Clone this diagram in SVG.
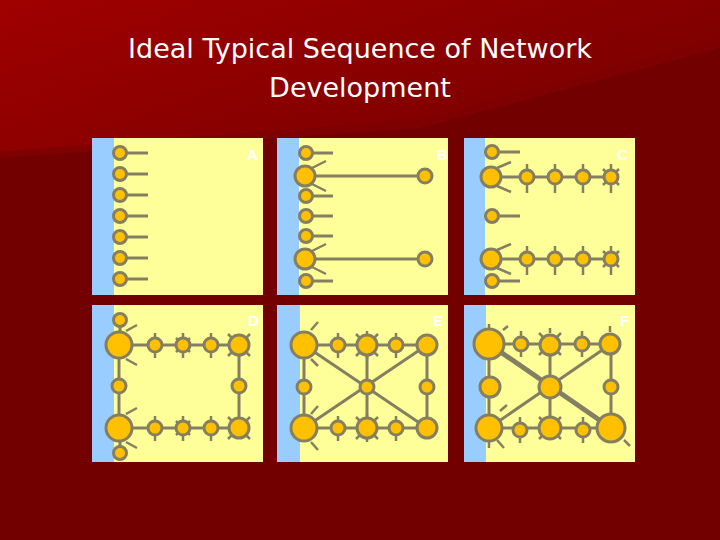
<svg xmlns="http://www.w3.org/2000/svg" width="720" height="540" viewBox="0 0 720 540">
<defs>
<linearGradient id="bg" x1="0" y1="0" x2="1" y2="0.6">
<stop offset="0" stop-color="#a00000"/><stop offset="1" stop-color="#7a0000"/>
</linearGradient>
<style>
.pan{fill:#ffff99}.blue{fill:#99ccff}
.n{fill:#ffc000;stroke:#857f62;stroke-width:3}
.l{stroke:#857f62;stroke-width:3;fill:none}
.t{stroke:#857f62;stroke-width:2.5;fill:none}
.lab{font-family:"Liberation Sans",Arial,sans-serif;font-weight:bold;font-size:15px;fill:#ffffff}
.title{font-family:"DejaVu Sans",sans-serif;font-size:27px;fill:#ffffff;text-anchor:middle}
</style>
</defs>
<rect width="720" height="540" fill="#720000"/>
<polygon points="0,0 720,0 720,40 420,120 0,152" fill="url(#bg)"/>
<polygon points="0,152 420,120 720,40 720,48 420,128 0,158" fill="#7e0000"/>
<text class="title" x="360" y="58">Ideal Typical Sequence of Network</text>
<text class="title" x="360" y="97">Development</text>

<g id="panelA">
<rect class="pan" x="92" y="138" width="171" height="157"/><rect class="blue" x="92" y="138" width="22" height="157"/>
<path class="l" d="M120 153H148M120 174H148M120 195H148M120 216H148M120 237H148M120 258H148M120 279H148"/>
<circle class="n" cx="120" cy="153" r="6.5"/><circle class="n" cx="120" cy="174" r="6.5"/><circle class="n" cx="120" cy="195" r="6.5"/><circle class="n" cx="120" cy="216" r="6.5"/><circle class="n" cx="120" cy="237" r="6.5"/><circle class="n" cx="120" cy="258" r="6.5"/><circle class="n" cx="120" cy="279" r="6.5"/>
<text class="lab" x="247" y="160">A</text>
</g>

<g id="panelB">
<rect class="pan" x="277" y="138" width="171" height="157"/><rect class="blue" x="277" y="138" width="22" height="157"/>
<path class="l" d="M306 153H333M306 176H425M306 196H333M306 216H333M306 236H333M306 259H425M306 281H333"/>
<path class="t" d="M312 168L326 161M312 184L326 191M312 251L326 244M312 267L326 274"/>
<circle class="n" cx="306" cy="153" r="6.5"/><circle class="n" cx="305" cy="176" r="10"/><circle class="n" cx="425" cy="176" r="7"/><circle class="n" cx="306" cy="196" r="6.5"/><circle class="n" cx="306" cy="216" r="6.5"/><circle class="n" cx="306" cy="236" r="6.5"/><circle class="n" cx="305" cy="259" r="10"/><circle class="n" cx="425" cy="259" r="7"/><circle class="n" cx="306" cy="281" r="6.5"/>
<text class="lab" x="437" y="160">B</text>
</g>

<g id="panelC">
<rect class="pan" x="464" y="138" width="171" height="157"/><rect class="blue" x="464" y="138" width="21" height="157"/>
<path class="l" d="M492 152H520M491 177H611M492 216H520M491 259H611M492 281H520"/>
<path class="t" d="M497 168L511 162M497 186L511 192M497 250L511 244M497 268L511 274M527 164V193M555 164V193M583 164V193M611 164V193M527 246V275M555 246V275M583 246V275M611 246V275M603 169L619 185M619 169L603 185M603 251L619 267M619 251L603 267"/>
<circle class="n" cx="492" cy="152" r="6.5"/><circle class="n" cx="491" cy="177" r="10"/><circle class="n" cx="527" cy="177" r="7"/><circle class="n" cx="555" cy="177" r="7"/><circle class="n" cx="583" cy="177" r="7"/><circle class="n" cx="611" cy="177" r="7"/>
<circle class="n" cx="492" cy="216" r="6.5"/><circle class="n" cx="491" cy="259" r="10"/><circle class="n" cx="527" cy="259" r="7"/><circle class="n" cx="555" cy="259" r="7"/><circle class="n" cx="583" cy="259" r="7"/><circle class="n" cx="611" cy="259" r="7"/><circle class="n" cx="492" cy="281" r="6.5"/>
<text class="lab" x="617" y="160">C</text>
</g>

<g id="panelD">
<rect class="pan" x="92" y="305" width="171" height="157"/><rect class="blue" x="92" y="305" width="22" height="157"/>
<path class="l" d="M119 345H239V428H119ZM120 320V345M120 428V453"/>
<path class="t" d="M126 331L137 325M126 359L137 365M126 414L137 408M126 442L137 448M155 333V358M183 333V358M211 333V358M155 416V441M183 416V441M211 416V441M176 338L190 352M190 338L176 352M176 421L190 435M190 421L176 435M228 334L250 356M250 334L228 356M228 417L250 439M250 417L228 439"/>
<circle class="n" cx="120" cy="320" r="6.5"/><circle class="n" cx="119" cy="345" r="13"/><circle class="n" cx="155" cy="345" r="7"/><circle class="n" cx="183" cy="345" r="7"/><circle class="n" cx="211" cy="345" r="7"/><circle class="n" cx="239" cy="345" r="10"/>
<circle class="n" cx="119" cy="386" r="7"/><circle class="n" cx="239" cy="386" r="7"/>
<circle class="n" cx="119" cy="428" r="13"/><circle class="n" cx="155" cy="428" r="7"/><circle class="n" cx="183" cy="428" r="7"/><circle class="n" cx="211" cy="428" r="7"/><circle class="n" cx="239" cy="428" r="10"/><circle class="n" cx="120" cy="453" r="6.5"/>
<text class="lab" x="248" y="326">D</text>
</g>

<g id="panelE">
<rect class="pan" x="277" y="305" width="171" height="157"/><rect class="blue" x="277" y="305" width="23" height="157"/>
<path class="l" d="M304 345H427V428H304ZM367 345V428M304 345L427 428M427 345L304 428"/>
<path class="t" d="M311 330L318 322M311 359L318 366M311 414L318 406M311 442L318 450M338 333V358M396 333V358M338 416V441M396 416V441M356 334L378 356M378 334L356 356M356 417L378 439M378 417L356 439M367 331V359M367 414V442"/>
<circle class="n" cx="304" cy="345" r="13"/><circle class="n" cx="338" cy="345" r="7"/><circle class="n" cx="367" cy="345" r="10"/><circle class="n" cx="396" cy="345" r="7"/><circle class="n" cx="427" cy="345" r="10"/>
<circle class="n" cx="304" cy="387" r="7"/><circle class="n" cx="367" cy="387" r="7"/><circle class="n" cx="427" cy="387" r="7"/>
<circle class="n" cx="304" cy="428" r="13"/><circle class="n" cx="338" cy="428" r="7"/><circle class="n" cx="367" cy="428" r="10"/><circle class="n" cx="396" cy="428" r="7"/><circle class="n" cx="427" cy="428" r="10"/>
<text class="lab" x="433" y="326">E</text>
</g>

<g id="panelF">
<rect class="pan" x="464" y="305" width="171" height="157"/><rect class="blue" x="464" y="305" width="22" height="157"/>
<path class="l" d="M489 344H611V428H489ZM550 344V428M611 344L489 428"/>
<path d="M489 344L611 428" stroke="#857f62" stroke-width="5" fill="none"/>
<path class="t" d="M489 324V330M503 330L508 326M521 331V357M582 331V357M520 417V443M583 417V443M539 333L561 355M561 333L539 355M550 328V333M539 417L561 439M561 417L539 439M610 326V332M497 440L504 448M489 442V448M500 411L507 405M624 440L630 446"/>
<circle class="n" cx="489" cy="344" r="15"/><circle class="n" cx="521" cy="344" r="7"/><circle class="n" cx="550" cy="345" r="10"/><circle class="n" cx="582" cy="344" r="7"/><circle class="n" cx="610" cy="344" r="10"/>
<circle class="n" cx="490" cy="387" r="10"/><circle class="n" cx="550" cy="387" r="11"/><circle class="n" cx="611" cy="387" r="7"/>
<circle class="n" cx="489" cy="428" r="13"/><circle class="n" cx="520" cy="430" r="7"/><circle class="n" cx="550" cy="428" r="11"/><circle class="n" cx="583" cy="430" r="7"/><circle class="n" cx="611" cy="428" r="14"/>
<text class="lab" x="620" y="326">F</text>
</g>
</svg>
